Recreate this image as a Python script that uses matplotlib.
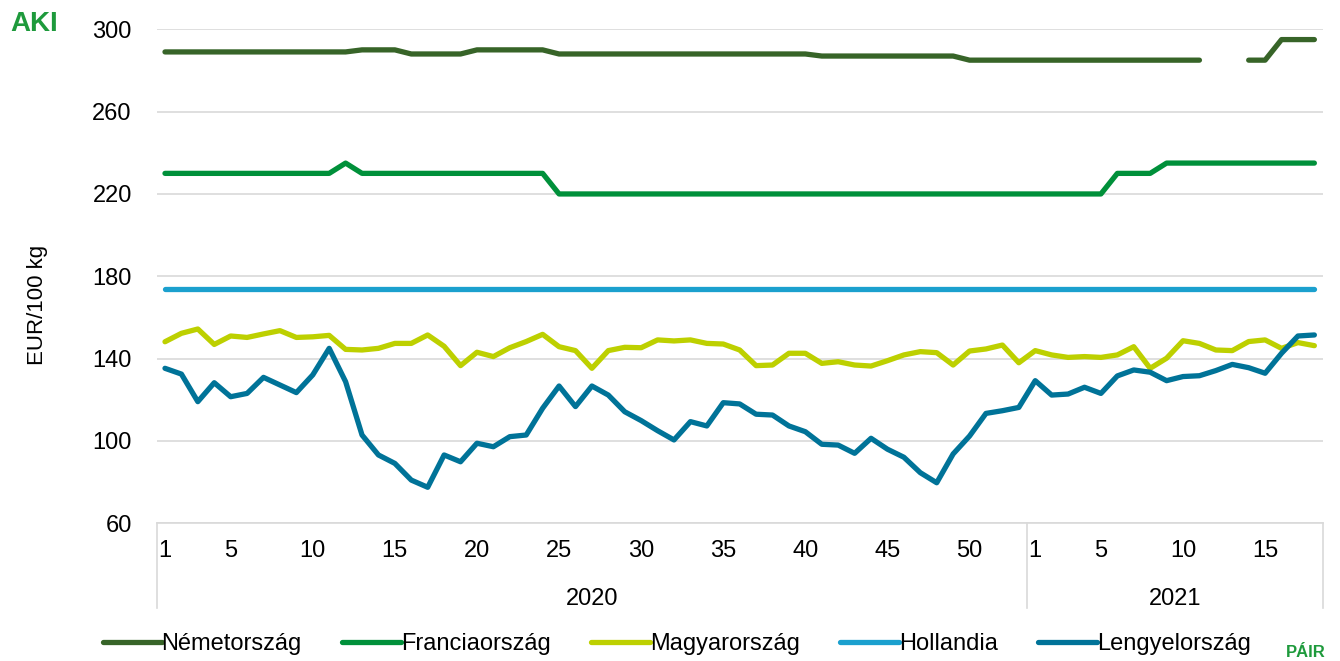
import numpy as np
import matplotlib
matplotlib.use("Agg")
import matplotlib.pyplot as plt
from matplotlib.lines import Line2D

plt.rcParams['font.family'] = ['Liberation Sans', 'DejaVu Sans']

# week labels: 53 weeks of 2020, 18 weeks of 2021
weeks_2020 = list(range(1, 54))
weeks_2021 = list(range(1, 19))
years = ['2020', '2021']
tick_weeks_2020 = [1, 5, 10, 15, 20, 25, 30, 35, 40, 45, 50]
tick_weeks_2021 = [1, 5, 10, 15]

nan = np.nan
nemetorszag = [289, 289, 289, 289, 289, 289, 289, 289, 289, 289,
               289, 289, 290, 290, 290, 288, 288, 288, 288, 290,
               290, 290, 290, 290, 288, 288, 288, 288, 288, 288,
               288, 288, 288, 288, 288, 288, 288, 288, 288, 288,
               287, 287, 287, 287, 287, 287, 287, 287, 287, 285,
               285, 285, 285, 285, 285, 285, 285, 285, 285, 285,
               285, 285, 285, 285, nan, nan, 285, 285, 295, 295,
               295]
franciaorszag = [230, 230, 230, 230, 230, 230, 230, 230, 230, 230,
                 230, 235, 230, 230, 230, 230, 230, 230, 230, 230,
                 230, 230, 230, 230, 220, 220, 220, 220, 220, 220,
                 220, 220, 220, 220, 220, 220, 220, 220, 220, 220,
                 220, 220, 220, 220, 220, 220, 220, 220, 220, 220,
                 220, 220, 220, 220, 220, 220, 220, 220, 230, 230,
                 230, 235, 235, 235, 235, 235, 235, 235, 235, 235,
                 235]
magyarorszag = [148.2, 152.3, 154.4, 146.9, 151.0, 150.3, 152.0, 153.6, 150.3, 150.6,
                151.3, 144.5, 144.2, 145.0, 147.4, 147.4, 151.5, 146.0, 136.6, 143.1,
                141.0, 145.3, 148.3, 151.8, 145.8, 143.9, 135.3, 143.9, 145.5, 145.3,
                149.1, 148.6, 149.1, 147.4, 147.1, 144.2, 136.6, 136.9, 142.6, 142.6,
                137.7, 138.5, 136.9, 136.4, 139.0, 141.8, 143.4, 142.9, 136.9, 143.7,
                144.7, 146.6, 138.0, 143.9, 141.8, 140.6, 141.0, 140.6, 141.8, 145.8,
                135.3, 140.2, 148.7, 147.4, 144.2, 143.9, 148.3, 149.1, 145.0, 147.8,
                146.3]
hollandia = [174] * 71
lengyelorszag = [135.3, 132.5, 119.1, 128.3, 121.5, 123.1, 130.9, 127.2, 123.5, 132.1,
                 145.0, 128.8, 102.9, 93.2, 89.1, 81.0, 77.5, 93.2, 89.9, 98.9,
                 97.2, 102.1, 102.9, 115.9, 126.7, 116.7, 126.7, 122.3, 114.2, 109.9,
                 105.0, 100.5, 109.4, 107.3, 118.6, 118.0, 113.0, 112.6, 107.3, 104.5,
                 98.4, 98.0, 94.0, 101.3, 96.0, 92.1, 84.6, 79.7, 93.7, 102.4,
                 113.4, 114.7, 116.3, 129.3, 122.3, 122.8, 126.1, 123.1, 131.6, 134.5,
                 133.4, 129.3, 131.3, 131.7, 134.2, 137.2, 135.6, 132.9, 142.6, 151.0,
                 151.5]

series = [
    ('Németország', nemetorszag, '#376428'),
    ('Franciaország', franciaorszag, '#00903a'),
    ('Magyarország', magyarorszag, '#bdd000'),
    ('Hollandia', hollandia, '#1ba0ce'),
    ('Lengyelország', lengyelorszag, '#007398'),
]

n = len(weeks_2020) + len(weeks_2021)
x = np.arange(n)

fig = plt.figure(figsize=(13.4, 6.61), dpi=100)
ax = fig.add_axes([0.117, 0.2083, 0.870, 0.7474])

for name, vals, col in series:
    ax.plot(x, vals, color=col, lw=3.8, solid_capstyle='round',
            solid_joinstyle='round', label=name)

ax.set_xlim(-0.5, n - 0.5)
ax.set_ylim(60, 300)
ax.set_yticks(range(60, 301, 40))
ax.grid(axis='y', color='#d9d9d9', lw=1.2)
ax.set_axisbelow(True)
for s in ['top', 'right', 'left']:
    ax.spines[s].set_visible(False)
ax.spines['bottom'].set_color('#d9d9d9')
ax.spines['bottom'].set_linewidth(1.2)

# week ticks
pos = [w - 1 for w in tick_weeks_2020] + [len(weeks_2020) + w - 1 for w in tick_weeks_2021]
labs = [str(w) for w in tick_weeks_2020] + [str(w) for w in tick_weeks_2021]
ax.set_xticks(pos)
ax.set_xticklabels(labs)
ax.tick_params(axis='x', length=0, pad=12, labelsize=17)
ax.tick_params(axis='y', length=0, pad=18, labelsize=17)

# year level of the category axis
trans = ax.get_xaxis_transform()
bounds = [-0.5, len(weeks_2020) - 0.5, n - 0.5]
for b in bounds:
    ax.plot([b, b], [0, -0.172], transform=trans, color='#d9d9d9', lw=1.2,
            clip_on=False)
for i, yr in enumerate(years):
    ax.text((bounds[i] + bounds[i + 1]) / 2, -0.153, yr, transform=trans,
            ha='center', va='center', fontsize=17)

fig.text(37 / 1340, 1 - 305 / 661, 'EUR/100 kg', rotation=90, ha='center',
         va='center', fontsize=16)

# legend
handles = [Line2D([], [], color=c, lw=3.8, solid_capstyle='round') for _, _, c in series]
fig.legend(handles, [s[0] for s in series], loc='center',
           bbox_to_anchor=(0.505, 0.026), ncol=5, frameon=False, fontsize=17,
           handlelength=2.5, handletextpad=0.0, columnspacing=1.7)

# logos
fig.text(10 / 1340, 1 - 24 / 661, 'AKI', color='#1e9a3c', fontsize=20,
         fontweight='bold', va='center', ha='left')
fig.text(1286 / 1340, 0.002, 'PÁIR', color='#1e9a3c', fontsize=12,
         fontweight='bold', va='bottom', ha='left')

fig.savefig('out.png', dpi=100)
